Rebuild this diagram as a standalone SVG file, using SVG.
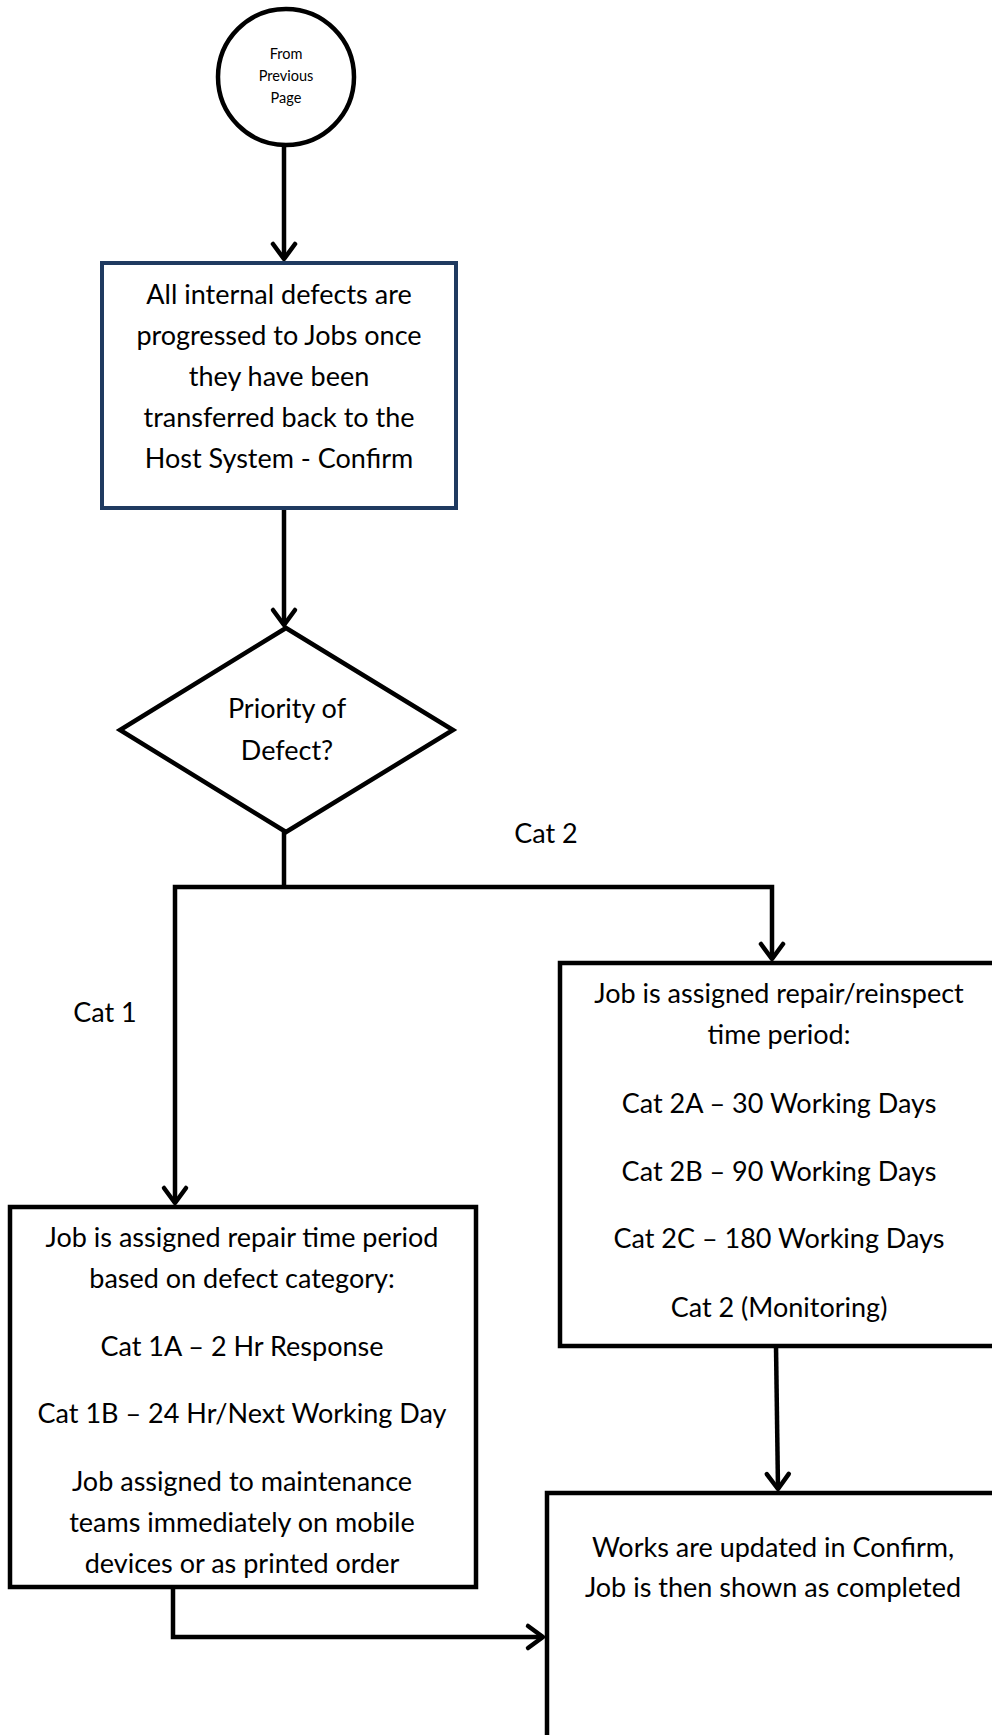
<svg xmlns="http://www.w3.org/2000/svg" width="992" height="1735" viewBox="0 0 992 1735">
<style>
.t{font-family:Lato,"Open Sans","Liberation Sans",sans-serif;font-size:27px;fill:#000;text-anchor:middle}
.s{font-family:Lato,"Open Sans","Liberation Sans",sans-serif;font-size:14.5px;fill:#000;text-anchor:middle}
.n{fill:#fff;stroke:#000;stroke-width:4.5}
.c{fill:none;stroke:#000;stroke-width:4.5;stroke-linejoin:miter}
</style>
<defs>
<marker id="arr" markerUnits="userSpaceOnUse" markerWidth="40" markerHeight="40" refX="0" refY="0" orient="auto" overflow="visible">
<path d="M-15,-11 L0,0 L-15,11" fill="none" stroke="#000" stroke-width="4.5" stroke-linecap="round" stroke-linejoin="round"/>
</marker>
</defs>
<rect width="992" height="1735" fill="#fff"/>
<g id="connectors">
<path class="c" d="M284,147 V259" marker-end="url(#arr)"/>
<path class="c" d="M284,508 V625" marker-end="url(#arr)"/>
<path class="c" d="M284,832 V887"/>
<path class="c" d="M284,887 H175 V1203" marker-end="url(#arr)"/>
<path class="c" d="M284,887 H772 V959" marker-end="url(#arr)"/>
<path class="c" d="M776,1346 L778,1489" marker-end="url(#arr)"/>
<path class="c" d="M173,1587 V1637 H543" marker-end="url(#arr)"/>
</g>
<g id="start">
<circle class="n" cx="286" cy="77" r="68"/>
<text class="s" x="286" y="59">From</text>
<text class="s" x="286" y="81">Previous</text>
<text class="s" x="286" y="103">Page</text>
</g>
<g id="transfer">
<rect x="102" y="263" width="354" height="245" fill="#fff" stroke="#1F3A60" stroke-width="4"/>
<text class="t" x="279" y="304">All internal defects are</text>
<text class="t" x="279" y="345">progressed to Jobs once</text>
<text class="t" x="279" y="386">they have been</text>
<text class="t" x="279" y="427">transferred back to the</text>
<text class="t" x="279" y="468">Host System - Confirm</text>
</g>
<g id="decision">
<polygon class="n" points="286,628 453,730 286,832 120,730"/>
<text class="t" x="287" y="718">Priority of</text>
<text class="t" x="287" y="760">Defect?</text>
</g>
<g id="labels">
<text class="t" x="546" y="843">Cat 2</text>
<text class="t" x="105" y="1022">Cat 1</text>
</g>
<g id="cat2">
<rect class="n" x="560" y="963" width="460" height="383"/>
<text class="t" x="779" y="1003">Job is assigned repair/reinspect</text>
<text class="t" x="779" y="1044">time period:</text>
<text class="t" x="779" y="1113">Cat 2A – 30 Working Days</text>
<text class="t" x="779" y="1181">Cat 2B – 90 Working Days</text>
<text class="t" x="779" y="1248">Cat 2C – 180 Working Days</text>
<text class="t" x="779" y="1317">Cat 2 (Monitoring)</text>
</g>
<g id="cat1">
<rect class="n" x="10" y="1207" width="466" height="380"/>
<text class="t" x="242" y="1247">Job is assigned repair time period</text>
<text class="t" x="242" y="1288">based on defect category:</text>
<text class="t" x="242" y="1356">Cat 1A – 2 Hr Response</text>
<text class="t" x="242" y="1423">Cat 1B – 24 Hr/Next Working Day</text>
<text class="t" x="242" y="1491">Job assigned to maintenance</text>
<text class="t" x="242" y="1532">teams immediately on mobile</text>
<text class="t" x="242" y="1573">devices or as printed order</text>
</g>
<g id="complete">
<rect class="n" x="547" y="1493" width="460" height="260"/>
<text class="t" x="773" y="1557">Works are updated in Confirm,</text>
<text class="t" x="773" y="1597">Job is then shown as completed</text>
</g>
</svg>
